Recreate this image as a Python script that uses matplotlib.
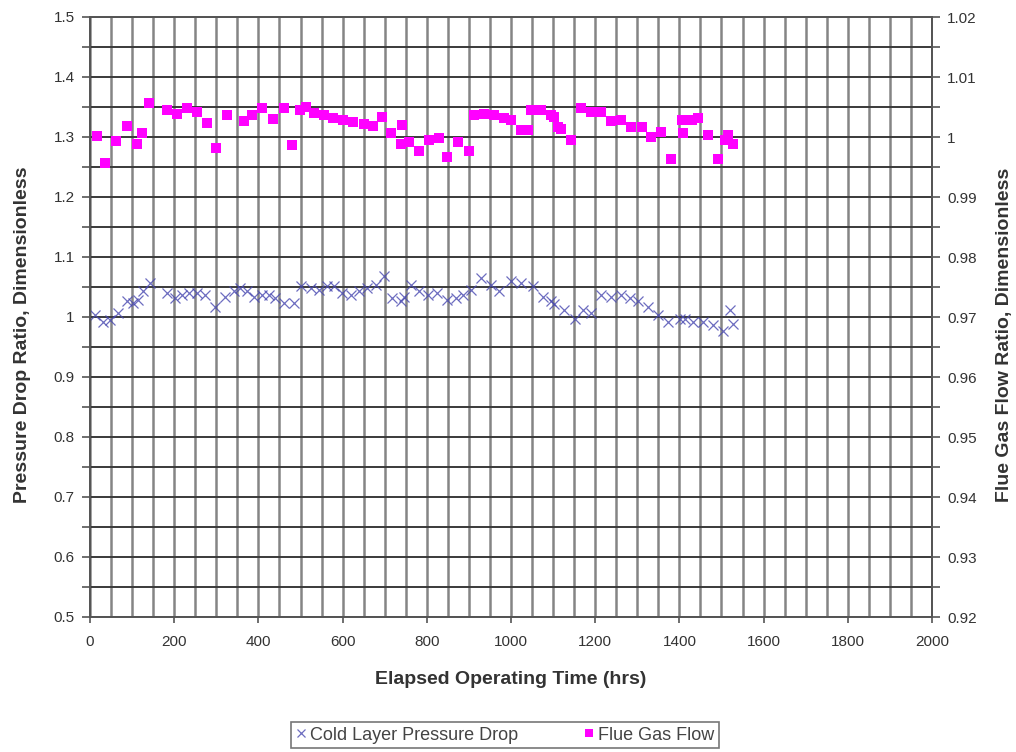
import matplotlib
matplotlib.use("Agg")
import matplotlib.pyplot as plt
from matplotlib.ticker import MultipleLocator

plt.rcParams['font.family'] = ['Liberation Sans', 'DejaVu Sans']

# Cold layer pressure drop ratio (left axis)
cold_t = [12, 32, 48, 67, 87, 103, 115, 127, 143, 183, 202, 218, 234, 254, 274, 298,
          321, 341, 357, 373, 389, 409, 425, 440, 460, 484, 500, 524, 544, 563, 579,
          599, 619, 639, 659, 679, 698, 718, 738, 746, 762, 782, 802, 825, 849, 869,
          885, 905, 929, 952, 972, 1000, 1024, 1052, 1075, 1095, 1103, 1127, 1151,
          1171, 1190, 1214, 1238, 1262, 1282, 1302, 1325, 1349, 1373, 1401, 1413,
          1433, 1456, 1480, 1504, 1520, 1528]
cold_v = [1.003, 0.991, 0.995, 1.006, 1.026, 1.023, 1.028, 1.043, 1.056, 1.040, 1.031,
          1.037, 1.040, 1.040, 1.037, 1.017, 1.034, 1.043, 1.048, 1.043, 1.034, 1.037,
          1.037, 1.031, 1.023, 1.023, 1.051, 1.048, 1.045, 1.051, 1.051, 1.040, 1.037,
          1.043, 1.048, 1.054, 1.068, 1.031, 1.026, 1.034, 1.054, 1.043, 1.037, 1.040,
          1.028, 1.031, 1.037, 1.045, 1.065, 1.054, 1.043, 1.060, 1.057, 1.051, 1.034,
          1.026, 1.022, 1.011, 0.997, 1.011, 1.006, 1.037, 1.034, 1.037, 1.031, 1.026,
          1.017, 1.003, 0.991, 0.997, 0.997, 0.991, 0.991, 0.986, 0.977, 1.011, 0.989]

# Flue gas flow ratio (right axis)
flow_t = [16, 36, 62, 87, 111, 123, 139, 183, 206, 230, 254, 278, 300, 325, 365, 385,
          409, 435, 460, 480, 500, 512, 532, 555, 578, 600, 625, 650, 672, 694, 714,
          738, 742, 758, 782, 806, 829, 849, 873, 901, 913, 936, 960, 984, 1000, 1024,
          1040, 1048, 1071, 1095, 1103, 1111, 1119, 1143, 1167, 1190, 1214, 1238, 1262,
          1286, 1310, 1333, 1357, 1381, 1405, 1409, 1429, 1444, 1468, 1492, 1508, 1516,
          1528]
flow_v = [1.0002, 0.9956, 0.9994, 1.0018, 0.9989, 1.0006, 1.0057, 1.0045, 1.0039, 1.0048,
          1.0042, 1.0024, 0.9981, 1.0037, 1.0026, 1.0037, 1.0048, 1.0030, 1.0048, 0.9987,
          1.0045, 1.0050, 1.0040, 1.0036, 1.0032, 1.0028, 1.0025, 1.0022, 1.0018, 1.0034,
          1.0006, 0.9989, 1.0020, 0.9992, 0.9976, 0.9995, 0.9998, 0.9967, 0.9992, 0.9976,
          1.0037, 1.0039, 1.0037, 1.0031, 1.0028, 1.0012, 1.0012, 1.0045, 1.0045, 1.0037,
          1.0034, 1.0017, 1.0014, 0.9995, 1.0048, 1.0042, 1.0042, 1.0026, 1.0028, 1.0017,
          1.0017, 1.0000, 1.0009, 0.9964, 1.0028, 1.0006, 1.0028, 1.0031, 1.0003, 0.9964,
          0.9995, 1.0003, 0.9989]

x_ticks = [0, 200, 400, 600, 800, 1000, 1200, 1400, 1600, 1800, 2000]
left_ticks = [0.5, 0.6, 0.7, 0.8, 0.9, 1.0, 1.1, 1.2, 1.3, 1.4, 1.5]
left_labels = ['0.5', '0.6', '0.7', '0.8', '0.9', '1', '1.1', '1.2', '1.3', '1.4', '1.5']
right_ticks = [0.92, 0.93, 0.94, 0.95, 0.96, 0.97, 0.98, 0.99, 1.0, 1.01, 1.02]
right_labels = ['0.92', '0.93', '0.94', '0.95', '0.96', '0.97', '0.98', '0.99', '1', '1.01', '1.02']

fig = plt.figure(figsize=(10.16, 7.52), dpi=100)
ax = fig.add_axes([90/1016, 1-617/752, 842/1016, 600/752])
ax2 = ax.twinx()

ax.set_xlim(0, 2000)
ax.set_ylim(0.5, 1.5)
ax2.set_ylim(0.92, 1.02)

ax.set_xticks(x_ticks)
ax.set_xticklabels([str(v) for v in x_ticks])
ax.xaxis.set_minor_locator(MultipleLocator(50))
ax.set_yticks(left_ticks)
ax.set_yticklabels(left_labels)
ax.yaxis.set_minor_locator(MultipleLocator(0.05))
ax2.set_yticks(right_ticks)
ax2.set_yticklabels(right_labels)
ax2.yaxis.set_minor_locator(MultipleLocator(0.005))

ax.grid(True, which='both', axis='x', color='#858585', lw=1.8)
ax.grid(True, which='both', axis='y', color='#3a3a3a', lw=1.4)
ax.set_axisbelow(True)

for a in (ax, ax2):
    for s in a.spines.values():
        s.set_color('#555555')
        s.set_linewidth(1.3)
    a.tick_params(which='both', direction='out', color='#555555', width=1.2,
                  labelsize=11, labelcolor='#333333')
    a.tick_params(which='major', length=6)
    a.tick_params(which='minor', length=6)
ax.tick_params(axis='x', which='minor', length=0)
ax.tick_params(axis='x', which='major', length=4, pad=9)
ax.tick_params(axis='y', pad=5)
ax2.tick_params(axis='y', pad=5)

h1, = ax.plot(cold_t, cold_v, linestyle='none', marker='x', color='#4848b0',
              markersize=7, markeredgewidth=0.9, alpha=0.8, label='Cold Layer Pressure Drop')
h2, = ax2.plot(flow_t, flow_v, linestyle='none', marker='s', color='#ff00ff',
               markersize=7, markeredgewidth=0, label='Flue Gas Flow')

ax.set_xlabel('Elapsed Operating Time (hrs)', fontsize=14, fontweight='bold',
              color='#333333', labelpad=16)
ax.set_ylabel('Pressure Drop Ratio, Dimensionless', fontsize=14, fontweight='bold',
              color='#333333')
ax2.set_ylabel('Flue Gas Flow Ratio, Dimensionless', fontsize=14, fontweight='bold',
               color='#333333')
ax.yaxis.set_label_coords(-0.07, 0.47)
ax2.yaxis.set_label_coords(1.076, 0.47)

leg = fig.legend(handles=[h1, h2], loc='center', bbox_to_anchor=(505/1016, 1-735/752),
                 ncol=2, frameon=True, fancybox=False, fontsize=13, handlelength=0.6,
                 handletextpad=0.2, columnspacing=3.6, borderpad=0.25, borderaxespad=0,
                 markerscale=0.9)
leg.get_frame().set_edgecolor('#555555')
leg.get_frame().set_linewidth(1.2)
for t in leg.get_texts():
    t.set_color('#444444')

fig.savefig('out.png', dpi=100)
